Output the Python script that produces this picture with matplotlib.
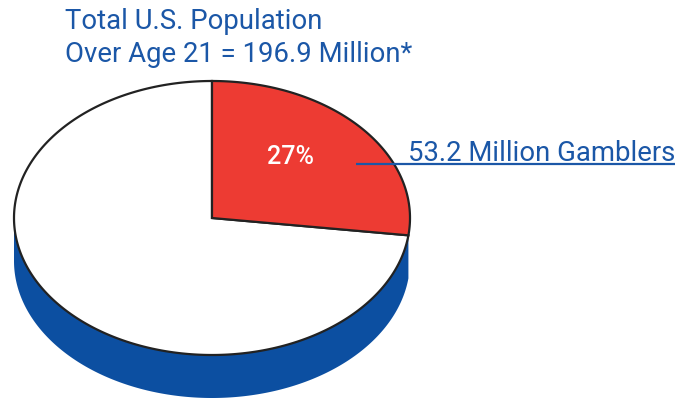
import numpy as np
import matplotlib
matplotlib.use("Agg")
from matplotlib import pyplot as plt
from matplotlib.patches import Polygon

# population figures (millions)
total_pop = 196.9
gamblers = 53.2
pct_label = "27%"
title_lines = ["Total U.S. Population", "Over Age 21 = 196.9 Million*"]
gambler_label = "53.2 Million Gamblers"

BLUE_TEXT = "#1b57a7"
SIDE_BLUE = "#0c4fa1"
RED = "#ed3b33"
FONT = ["Roboto", "DejaVu Sans"]

# pie geometry in pixel coords (y grows downward)
cx, cy = 212, 218
a, b = 198, 137
depth = 43


def rim(theta_deg, dy=0):
    # theta measured clockwise from 12 o'clock
    t = np.radians(theta_deg)
    return np.column_stack([cx + a * np.sin(t), cy - b * np.cos(t) + dy])


fig = plt.figure(figsize=(6.8, 4.0), dpi=100)
ax = fig.add_axes([0, 0, 1, 1])
ax.set_xlim(0, 680)
ax.set_ylim(400, 0)
ax.axis("off")

share = gamblers / total_pop
end_angle = 360 * share

# blue side of the disc, visible below the white slice
th = np.linspace(end_angle, 270, 200)
side = np.vstack([rim(th), rim(th[::-1], depth)])
ax.add_patch(Polygon(side, closed=True, facecolor=SIDE_BLUE, edgecolor="none", zorder=1))

# white slice
th_w = np.linspace(end_angle, 360, 300)
white = np.vstack([[cx, cy], rim(th_w)])
ax.add_patch(Polygon(white, closed=True, facecolor="white", edgecolor="#222222",
                     lw=1.6, joinstyle="miter", zorder=2))

# red slice
th_r = np.linspace(0, end_angle, 150)
red = np.vstack([[cx, cy], rim(th_r)])
ax.add_patch(Polygon(red, closed=True, facecolor=RED, edgecolor="#222222",
                     lw=1.6, joinstyle="miter", zorder=3))

ax.text(291, 164, pct_label, color="white", fontsize=18, family=FONT,
        fontweight="medium", ha="center", va="baseline", zorder=4)

# leader line under the label
ax.plot([356, 675], [164, 164], color=BLUE_TEXT, lw=1.6, zorder=5,
        solid_capstyle="butt")
ax.text(675, 161, gambler_label, color=BLUE_TEXT, fontsize=19.8, family=FONT,
        ha="right", va="baseline", zorder=5)

ax.text(65, 29, title_lines[0], color=BLUE_TEXT, fontsize=19.8, family=FONT,
        ha="left", va="baseline")
ax.text(65, 62, title_lines[1], color=BLUE_TEXT, fontsize=19.8, family=FONT,
        ha="left", va="baseline")

fig.savefig("out.png", dpi=100, facecolor="white")
